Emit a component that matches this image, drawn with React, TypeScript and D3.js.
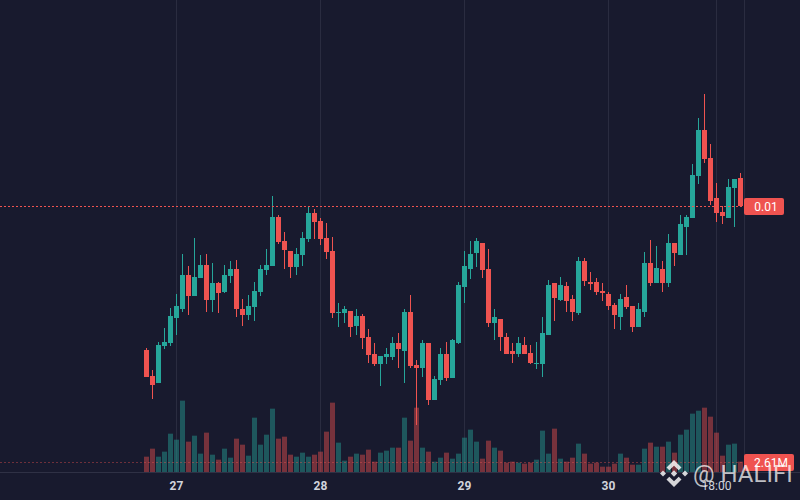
import * as d3 from "d3";

const opens = [856,830,823,860,863,888,897,931,910,928,941,906,923,914,930,937,897,891,899,914,936,940,989,965,955,939,951,967,993,985,968,955,893,893,895,880,890,869,852,842,849,849,863,855,894,841,838,863,806,826,852,828,863,919,937,953,963,937,883,887,869,855,852,861,853,842,842,871,923,906,920,907,893,945,924,924,915,912,901,889,909,900,879,894,943,923,937,923,963,951,979,988,1030,1076,1048,1008,994,988,1018,1028];
const highs = [858,836,864,878,898,912,952,940,968,951,952,943,924,941,945,946,907,911,924,941,957,1010,991,974,955,958,974,999,997,988,983,969,903,900,895,897,892,877,863,850,858,869,873,897,911,846,866,863,830,858,864,867,924,955,965,968,963,957,897,887,873,863,869,869,861,864,889,926,923,929,924,911,949,948,934,928,923,914,903,912,921,900,903,954,966,960,945,972,963,991,991,1042,1088,1112,1062,1023,1000,1027,1027,1033];
const lows = [829,807,823,857,860,871,894,891,910,928,894,894,893,913,923,889,880,886,885,910,931,940,962,937,928,931,940,964,967,961,947,888,879,883,869,871,857,843,840,820,842,846,838,823,838,781,829,801,806,821,825,828,862,903,927,939,928,879,866,855,852,843,849,852,842,837,829,871,885,905,894,885,891,920,916,911,905,896,877,876,897,874,879,889,920,923,914,919,940,951,951,988,1022,1043,1001,984,982,988,979,1000];
const closes = [829,821,861,864,890,900,931,910,929,941,906,923,913,931,937,897,891,900,915,937,941,989,964,956,939,952,968,993,984,967,954,893,894,897,879,890,868,851,842,850,852,863,857,894,840,838,863,806,827,852,828,866,921,940,952,965,936,883,889,869,852,852,863,852,843,843,873,921,908,921,905,894,945,925,922,914,913,900,891,907,899,879,897,943,923,938,923,963,953,982,989,1031,1076,1047,1005,993,990,1019,1027,1000];
const volumes = [4.0,6.09,4.0,5.31,10.0,8.44,18.62,7.92,9.48,4.79,10.27,4.52,3.22,6.09,3.74,8.7,7.13,4.26,14.18,7.13,9.74,16.53,8.7,9.22,4.52,4.0,5.05,4.0,4.52,5.31,10.53,18.1,7.66,2.96,4.0,4.79,4.52,5.83,2.7,5.05,5.57,6.35,6.35,14.18,8.18,16.79,6.35,5.31,2.7,3.74,5.05,3.48,4.79,8.96,11.05,7.92,3.48,8.18,6.35,5.57,2.44,2.7,2.44,2.18,2.44,3.22,10.79,4.79,11.31,3.48,2.7,3.74,7.4,4.79,2.18,2.44,1.39,1.39,2.18,4.79,3.74,1.91,1.91,6.09,7.66,6.61,6.61,7.92,5.05,9.74,11.05,15.23,16.0,16.79,14.44,10.27,4.26,7.13,7.4,2.7];

// bar index -> label, for the time scale
const tickBars = [5, 29, 53, 77, 95];
const tickLabels = ["27", "28", "29", "30", "18:00"];
const lastPriceLabel = "0.01";
const lastVolumeLabel = "2.61M";

const width = 800;
const height = 500;
const upColor = "#26a69a";
const downColor = "#ef5350";
const bg = "#181a2e";

const x = d3.scaleLinear().domain([0, 99]).range([146.5, 740.5]);
const y = d3.scaleLinear().domain([1000, 1206]).range([206, 0]).interpolate(d3.interpolateRound);
const yVol = d3.scaleLinear().domain([0, 2.61]).range([472, 462]);

const indices = d3.range(opens.length);

export default function App() {
  return (
    <svg
      width={width}
      height={height}
      style={{ position: "fixed", left: 0, top: 0, display: "block", background: bg }}
      fontFamily="Roboto, sans-serif"
    >
      <rect width={width} height={height} fill={bg} />

      {/* time grid */}
      {tickBars.map((b) => (
        <line key={b} x1={x(b)} x2={x(b)} y1={0} y2={472} stroke="#2a2c40" />
      ))}
      <line x1={744.5} x2={744.5} y1={0} y2={472} stroke="#2a2c40" />
      <line x1={0} x2={width} y1={472.5} y2={472.5} stroke="#2f3145" />

      {/* volume */}
      {indices.map((i) => (
        <rect
          key={i}
          x={Math.round(x(i) - 2.5)}
          y={yVol(volumes[i])}
          width={5}
          height={472 - yVol(volumes[i])}
          fill={closes[i] >= opens[i] ? upColor : downColor}
          fillOpacity={0.44}
        />
      ))}
      <line x1={0} x2={744} y1={462.5} y2={462.5} stroke={downColor} strokeOpacity={0.4} strokeDasharray="2 2" />

      {/* candles */}
      {indices.map((i) => {
        const color = closes[i] >= opens[i] ? upColor : downColor;
        const top = y(Math.max(opens[i], closes[i]));
        const bottom = y(Math.min(opens[i], closes[i]));
        return (
          <g key={i} fill={color}>
            <rect x={Math.round(x(i) - 0.5)} y={y(highs[i])} width={1} height={y(lows[i]) - y(highs[i])} />
            <rect x={Math.round(x(i) - 2.5)} y={top} width={5} height={bottom - top} />
          </g>
        );
      })}
      <line x1={0} x2={744} y1={206.5} y2={206.5} stroke={downColor} strokeDasharray="2 2" />

      {/* last value labels */}
      <rect x={744} y={198} width={40} height={17} rx={2} fill={downColor} />
      <text x={766} y={211} textAnchor="middle" fontSize={12} fill="#fff">{lastPriceLabel}</text>
      <rect x={744} y={454} width={50} height={17} rx={2} fill={downColor} />
      <text x={771} y={467} textAnchor="middle" fontSize={12} fill="#fff">{lastVolumeLabel}</text>

      {/* time labels */}
      {tickBars.map((b, k) => (
        <text
          key={b}
          x={x(b)}
          y={490}
          textAnchor="middle"
          fontSize={12}
          fontWeight={k < 4 ? 700 : 400}
          fill="#d1d4dc"
        >
          {tickLabels[k]}
        </text>
      ))}

      {/* watermark */}
      <g fill="#fff" fillOpacity={0.82} transform="translate(674,473.5)">
        <path d="M0,-13.5 L7.5,-6 L4.7,-3.2 L0,-7.7 L-4.7,-3.2 L-7.5,-6 Z" />
        <path d="M0,13.5 L7.5,6 L4.7,3.2 L0,7.7 L-4.7,3.2 L-7.5,6 Z" />
        <path d="M-14,0 L-11,-3 L-8,0 L-11,3 Z" />
        <path d="M14,0 L11,-3 L8,0 L11,3 Z" />
        <path d="M0,-3.2 L3.2,0 L0,3.2 L-3.2,0 Z" />
      </g>
      <text x={693} y={482} fontSize={24} fill="#fff" fillOpacity={0.72}>@ HALIFI</text>
    </svg>
  );
}
